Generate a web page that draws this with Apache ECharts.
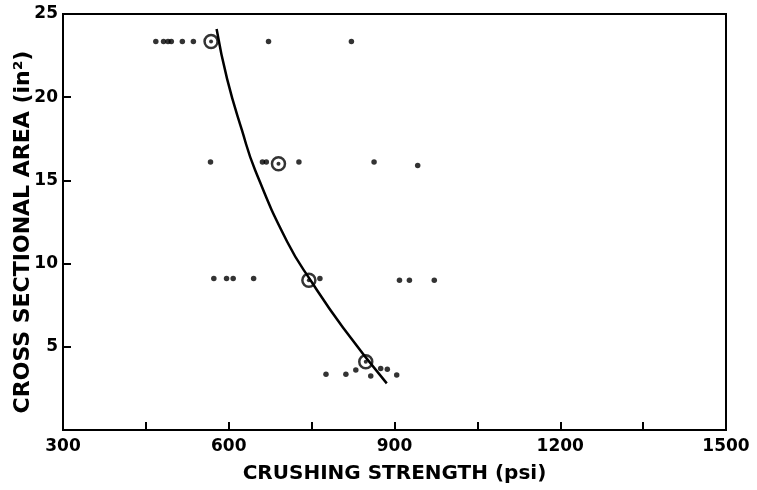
<!DOCTYPE html>
<html>
<head>
<meta charset="utf-8">
<script src="https://cdn.jsdelivr.net/npm/echarts@6/dist/echarts.min.js"></script>
<style>
  html, body { margin: 0; padding: 0; background: #fff; }
  #chart { width: 757px; height: 490px; }
</style>
</head>
<body>
<div id="chart"></div>
<script>
// individual specimens [psi, area]
const specimens = [
    [468, 23.35], [482, 23.35], [490, 23.35], [496, 23.35], [516, 23.35], [536, 23.35], [672, 23.35], [822, 23.35],
    [567, 16.1], [661, 16.1], [668, 16.1], [727, 16.1], [863, 16.1], [942, 15.9],
    [573, 9.1], [596, 9.1], [608, 9.1], [645, 9.1], [765, 9.1], [909, 9.0], [927, 9.0], [972, 9.0],
    [776, 3.35], [812, 3.35], [830, 3.6], [857, 3.25], [875, 3.7], [887, 3.65], [904, 3.3]
];
// averages (open circles)
const means = [[568, 23.35], [690, 16.0], [745, 9.0], [848, 4.1]];
// fitted curve
const curve = [
    [578, 24.1], [597, 21.1], [624, 18.0], [648, 15.6], [706, 11.3],
    [751, 8.85], [807, 6.15], [886, 2.8]
];

const font = '"DejaVu Sans", sans-serif';

const chart = echarts.init(document.getElementById('chart'));
chart.setOption({
    animation: false,
    backgroundColor: '#fff',
    grid: {
        left: 63,
        right: 31,
        top: 14,
        bottom: 60,
        outerBoundsMode: 'none',
        show: true,
        borderColor: '#000',
        borderWidth: 2
    },
    xAxis: {
        type: 'value',
        min: 300,
        max: 1500,
        interval: 150,
        name: 'CRUSHING STRENGTH (psi)',
        nameLocation: 'middle',
        nameGap: 34,
        nameMoveOverlap: false,
        nameTextStyle: { color: '#000', fontFamily: font, fontSize: 20, fontWeight: 'bold' },
        axisLine: { lineStyle: { color: '#000', width: 2 } },
        axisTick: { inside: true, length: 8, lineStyle: { color: '#000', width: 2 } },
        splitLine: { show: false },
        axisLabel: {
            color: '#000',
            fontFamily: font,
            fontSize: 17,
            fontWeight: 'bold',
            margin: 8,
            formatter: v => (v % 300 === 0 ? v : '')
        }
    },
    yAxis: {
        type: 'value',
        min: 0,
        max: 25,
        interval: 5,
        name: 'CROSS SECTIONAL AREA (in²)',
        nameLocation: 'middle',
        nameGap: 29,
        nameMoveOverlap: false,
        nameTextStyle: { color: '#000', fontFamily: font, fontSize: 22, fontWeight: 'bold', padding: [0, 20, 0, 0] },
        axisLine: { lineStyle: { color: '#000', width: 2 } },
        axisTick: { inside: true, length: 8, lineStyle: { color: '#000', width: 2 } },
        splitLine: { show: false },
        axisLabel: {
            color: '#000',
            fontFamily: font,
            fontSize: 17,
            fontWeight: 'bold',
            margin: 5,
            formatter: v => (v === 0 ? '' : v)
        }
    },
    series: [
        {
            type: 'line',
            data: curve,
            smooth: true,
            showSymbol: false,
            lineStyle: { color: '#000', width: 2.5 }
        },
        {
            type: 'scatter',
            data: specimens,
            symbol: 'circle',
            symbolSize: 5.5,
            itemStyle: { color: '#000' }
        },
        {
            type: 'scatter',
            data: means,
            symbol: 'circle',
            symbolSize: 13,
            itemStyle: { color: 'rgba(0,0,0,0)', borderColor: '#000', borderWidth: 2.5 }
        },
        {
            type: 'scatter',
            data: means,
            symbol: 'circle',
            symbolSize: 4,
            itemStyle: { color: '#000' }
        }
    ]
});
</script>
</body>
</html>
